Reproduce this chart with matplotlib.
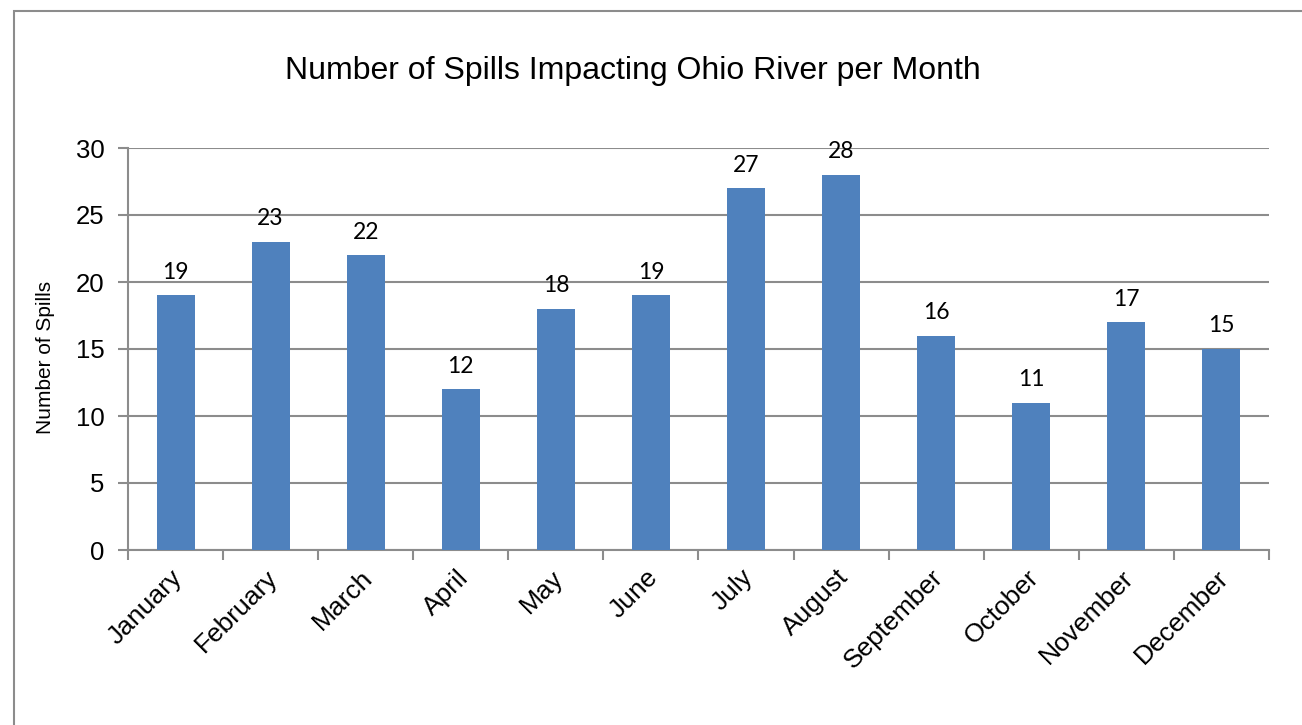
import matplotlib
matplotlib.use("Agg")
import matplotlib.pyplot as plt
import matplotlib.transforms as mtransforms
from matplotlib.patches import Rectangle

months = ["January", "February", "March", "April", "May", "June", "July",
          "August", "September", "October", "November", "December"]
spills = [19, 23, 22, 12, 18, 19, 27, 28, 16, 11, 17, 15]
yticks = [0, 5, 10, 15, 20, 25, 30]

W, H = 1302, 725
fig = plt.figure(figsize=(W / 100, H / 100), dpi=100)
fig.patch.set_facecolor("white")

# outer chart border (only top/left visible)
fig.patches.append(Rectangle((14 / W, -0.1), 1.2, (H - 11) / H + 0.1,
                             transform=fig.transFigure, fill=False,
                             edgecolor="#8c8c8c", linewidth=1.5))

ax = fig.add_axes([128 / W, 1 - 550 / H, (1269 - 128) / W, (550 - 148) / H])
x = list(range(len(months)))
ax.bar(x, spills, width=0.4, color="#4F81BD", zorder=3)
ax.set_xlim(-0.5, len(months) - 0.5)
ax.set_ylim(0, 30)
ax.set_yticks(yticks)
ax.set_yticklabels([str(v) for v in yticks], fontsize=18.5, family="Liberation Sans")
ax.set_xticks(x)
ax.set_xticklabels(months, rotation=45, ha="right", rotation_mode="anchor",
                   fontsize=19, family="Liberation Sans")
ax.tick_params(axis="x", length=0, pad=11)
ax.set_xticks([i - 0.5 for i in range(len(months) + 1)], minor=True)
ax.tick_params(axis="x", which="minor", length=7, width=1.5, color="#8c8c8c")
ax.tick_params(axis="y", length=7, width=1.5, color="#8c8c8c", pad=10)
ax.grid(axis="y", color="#8c8c8c", linewidth=1.5, zorder=0)
for s in ["top", "right"]:
    ax.spines[s].set_visible(False)
for s in ["left", "bottom"]:
    ax.spines[s].set_color("#8c8c8c")
    ax.spines[s].set_linewidth(1.5)

shift = mtransforms.ScaledTranslation(-5 / 100, 0, fig.dpi_scale_trans)
for lbl in ax.get_xticklabels():
    lbl.set_transform(lbl.get_transform() + shift)

for xi, v in zip(x, spills):
    ax.annotate(str(v), (xi, v), xytext=(0, 12), textcoords="offset points",
                ha="center", va="baseline", fontsize=16.5, family="Lato")

ax.set_ylabel("Number of Spills", fontsize=15, family="Liberation Sans")
ax.yaxis.set_label_coords(-0.064, 0.478)
fig.text(633 / W, 1 - 71 / H, "Number of Spills Impacting Ohio River per Month",
         ha="center", va="center", fontsize=23, family="Liberation Sans")

fig.savefig("out.png", dpi=100)
